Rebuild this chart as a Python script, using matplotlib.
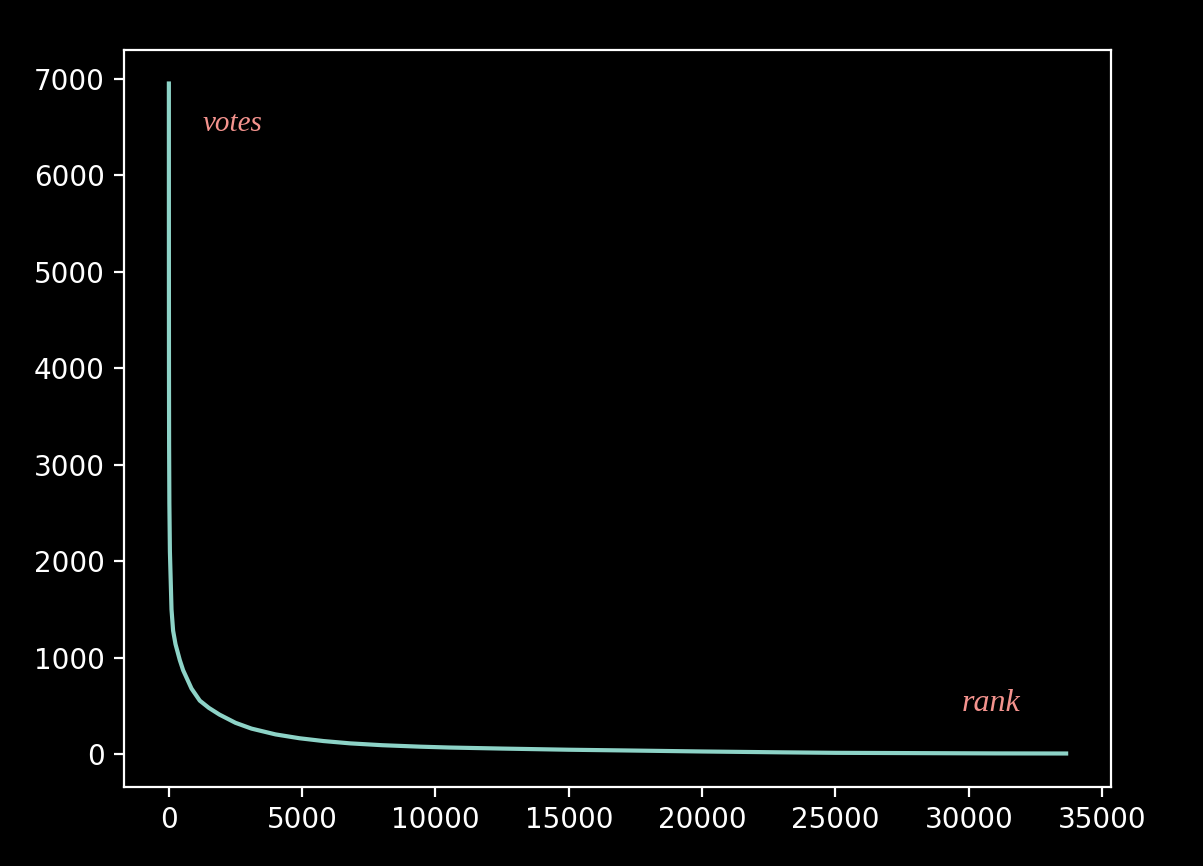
import numpy as np
from matplotlib import pyplot as plt

# rank vs votes
rank = [1, 2, 3, 5, 10, 20, 40, 100, 160, 250, 410, 536, 850, 1160, 1500,
        1900, 2500, 3100, 4000, 4900, 5800, 6800, 8000, 9400, 10500, 12500,
        15000, 17000, 20000, 23000, 25000, 28000, 31000, 33650]
votes = [6950, 5600, 4800, 4000, 3200, 2600, 2100, 1500, 1280, 1140, 976, 870,
         680, 555, 480, 410, 325, 265, 205, 165, 136, 112, 93, 78, 69, 58,
         46, 39, 28, 19, 14, 11, 8, 7]

plt.style.use('dark_background')

fig = plt.figure(figsize=(1203 / 200, 866 / 200), dpi=200)
ax = fig.add_subplot(111)
fig.subplots_adjust(left=124 / 1203, right=1111 / 1203,
                    top=1 - 50 / 866, bottom=1 - 787 / 866)

ax.plot(rank, votes, color='#8dd3c7', linewidth=1.5)

ax.text(1270, 6530, 'votes', color='#f4938e', fontsize=10.5,
        family='Liberation Serif', style='italic', va='center', ha='left')
ax.text(29750, 530, 'rank', color='#f4938e', fontsize=11.5,
        family='Liberation Serif', style='italic', va='center', ha='left')

ax.set_xticks(np.arange(0, 35001, 5000))
ax.set_yticks(np.arange(0, 7001, 1000))

fig.savefig('out.png', dpi=200)
